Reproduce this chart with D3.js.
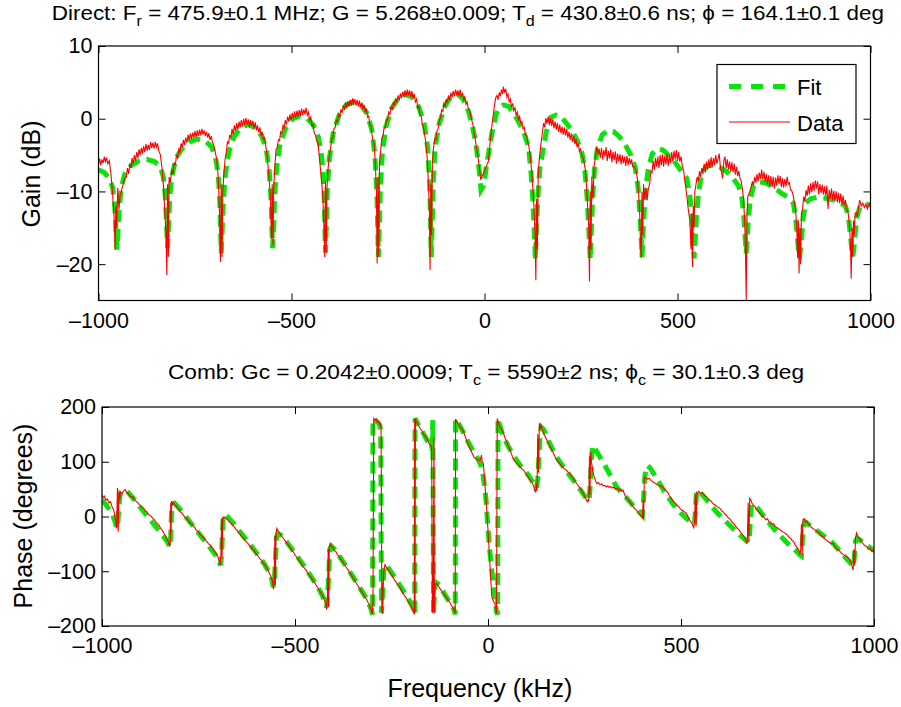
<!DOCTYPE html>
<html>
<head>
<meta charset="utf-8">
<script src="https://cdn.jsdelivr.net/npm/d3@7"></script>
<style>
  body { margin: 0; background: #fff; }
  svg text { font-family: "Liberation Sans", Arial, sans-serif; fill: #000; }
</style>
</head>
<body>
<div id="chart"></div>
<script>
// tick values
const freqTicks = [-1000, -500, 0, 500, 1000];
const gainTicks = [-20, -10, 0, 10];
const phaseTicks = [-200, -100, 0, 100, 200];

// gain fit [kHz, dB]
const gainFit = [
  [-1000,-7.0],[-985,-7.4],[-972,-8.2],[-963,-9.5],[-958,-12],[-955,-15],[-952,-18],[-949,-15],[-946,-12],[-941,-9.5],
  [-932,-7.6],[-915,-6.4],[-895,-5.8],[-875,-5.6],[-855,-5.9],[-840,-6.6],[-832,-8],[-827,-10.5],[-824,-14],[-821,-17.8],
  [-818,-14],[-815,-10.5],[-810,-8],[-800,-5.5],[-785,-4.2],[-765,-3.2],[-745,-2.8],[-725,-3.0],[-708,-3.8],[-698,-5],
  [-690,-7.5],[-686,-11],[-684,-14.5],[-682,-18.5],[-679,-14.5],[-676,-11],[-671,-7.5],[-662,-4.5],[-648,-2.4],[-630,-1.2],
  [-612,-0.8],[-595,-1.2],[-578,-2.3],[-566,-4],[-558,-7],[-553,-11],[-551,-14.5],[-549,-17.8],[-546,-14.5],[-544,-11],
  [-539,-7],[-530,-3.5],[-515,-1.3],[-497,0],[-478,0.4],[-460,0.1],[-443,-0.9],[-430,-2.6],[-421,-5.5],[-416,-9.5],
  [-414,-13.5],[-412,-18.4],[-409,-13.5],[-407,-9.5],[-402,-5.5],[-392,-2],[-376,0.6],[-358,1.9],[-340,2.3],[-322,2.0],
  [-305,0.8],[-292,-1.5],[-284,-5],[-279,-10],[-277,-14],[-275,-19],[-272,-14],[-270,-10],[-265,-5],[-256,-1.2],
  [-240,1.5],[-222,2.9],[-205,3.3],[-188,3.0],[-170,1.6],[-156,-0.8],[-147,-4],[-142,-9],[-140,-13.5],[-138,-19],
  [-135,-13.5],[-133,-9],[-128,-4],[-118,-0.8],[-102,1.8],[-86,3.1],[-70,3.4],[-55,2.7],[-40,0.8],[-30,-1.4],
  [-24,-2.9],[-17,-5.5],[-12,-8],[-9,-9.8],[-2,-9.2],[5,-6.5],[12,-4.3],[20,-1.8],[30,0.6],[38,1.5],
  [50,1.9],[62,1.7],[75,0.8],[90,-0.6],[104,-2.2],[114,-3.9],[120,-7],[125,-11],[128,-14.5],[132,-19.4],
  [135,-14.5],[138,-11],[143,-7],[150,-4.8],[160,-1.8],[172,0.2],[185,0.5],[198,0.3],[212,-0.6],[226,-1.6],
  [240,-3.0],[252,-4.6],[260,-7],[266,-11],[270,-15],[274,-19.4],[277,-15],[280,-11],[285,-7],[292,-4.2],
  [305,-2.2],[320,-1.6],[335,-1.8],[350,-2.5],[365,-3.6],[378,-4.9],[390,-6.6],[398,-9.5],[402,-12.5],[405,-15.5],
  [408,-19],[411,-15.5],[414,-12.5],[418,-9.5],[425,-6.6],[435,-4.8],[448,-4.1],[462,-4.3],[478,-5.1],[495,-6.1],
  [510,-7.2],[524,-8.2],[532,-10.5],[537,-13.5],[540,-16.5],[543,-19.2],[546,-16.5],[549,-13.5],[554,-10.5],[562,-7.6],
  [575,-6.5],[592,-6.4],[610,-6.7],[628,-7.3],[645,-8.3],[658,-9.2],[667,-11],[672,-13.5],[675,-16],[678,-18.5],
  [681,-16],[684,-13.5],[689,-11],[697,-9.2],[710,-8.7],[728,-8.8],[748,-9.4],[768,-10.2],[788,-10.9],[800,-11.6],
  [806,-13.5],[810,-16],[813,-17.8],[816,-19.2],[819,-17.8],[822,-16],[826,-13.5],[832,-11.6],[845,-11],[862,-10.8],
  [880,-10.9],[900,-11.1],[918,-11.4],[935,-12],[943,-13.5],[948,-16],[951,-17.8],[954,-19],[957,-17.8],[960,-16],
  [965,-13.5],[972,-12.2],[985,-11.8],[1000,-11.8]
];

// gain data [kHz, dB]
const gainData = [
  [-1000,-6.3],[-997,-5.5],[-994,-6.4],[-991,-5.6],[-988,-6.1],[-985,-5.2],[-982,-6.0],[-979,-5.3],[-976,-6.2],[-972,-5.8],
  [-968,-7.5],[-964,-10],[-960,-13],[-957,-18.0],[-955,-12],[-953,-15],[-950,-9.5],[-947,-12.5],[-944,-10.5],[-940,-9.8],
  [-936,-9.0],[-932,-8.2],[-928,-8.0],[-925,-6.8],[-922,-7.6],[-919,-6.2],[-916,-6.8],[-913,-5.4],[-910,-6.2],[-907,-5.0],
  [-904,-5.8],[-901,-4.6],[-898,-5.4],[-895,-4.2],[-892,-5.0],[-889,-4.0],[-886,-4.8],[-883,-3.8],[-880,-4.6],[-877,-3.5],
  [-874,-4.4],[-871,-3.6],[-868,-4.3],[-865,-3.2],[-862,-4.0],[-859,-3.3],[-856,-4.1],[-853,-3.2],[-850,-3.9],[-847,-3.4],
  [-844,-4.4],[-840,-4.9],[-836,-6.5],[-832,-9],[-828,-13],[-825,-16],[-823,-21.5],[-821,-9],[-819,-19],[-817,-8],
  [-814,-8.8],[-810,-7.0],[-807,-7.6],[-804,-6.0],[-801,-6.4],[-798,-5.0],[-795,-5.4],[-792,-4.2],[-789,-4.6],[-786,-3.4],
  [-783,-3.9],[-780,-2.9],[-777,-3.6],[-774,-2.6],[-771,-3.3],[-768,-2.2],[-765,-3.0],[-762,-2.0],[-759,-2.8],[-756,-1.9],
  [-753,-2.6],[-750,-1.7],[-747,-2.5],[-744,-1.6],[-741,-2.4],[-738,-1.5],[-735,-2.3],[-732,-1.4],[-729,-2.2],[-726,-1.6],
  [-723,-2.4],[-720,-1.8],[-717,-2.6],[-714,-2.0],[-711,-2.9],[-708,-2.4],[-705,-3.2],[-702,-3.5],[-698,-4.5],[-694,-5.5],
  [-690,-8],[-687,-12],[-684,-19.7],[-682,-9],[-680,-19],[-678,-10],[-675,-7.5],[-672,-5.5],[-669,-4.6],[-666,-3.2],
  [-663,-3.4],[-660,-2.2],[-657,-2.7],[-654,-1.4],[-651,-2.2],[-648,-0.9],[-645,-1.7],[-642,-0.6],[-639,-1.5],[-636,-0.4],
  [-633,-1.2],[-630,-0.2],[-627,-1.1],[-624,0.0],[-621,-0.9],[-618,0.1],[-615,-0.8],[-612,-0.1],[-609,-1.2],[-606,-0.2],
  [-603,-1.0],[-600,-0.3],[-597,-1.4],[-594,-0.5],[-591,-1.6],[-588,-0.9],[-585,-1.9],[-582,-1.2],[-579,-2.3],[-576,-1.8],
  [-573,-2.8],[-570,-2.6],[-567,-3.6],[-563,-5.2],[-559,-7.5],[-555,-10.5],[-552,-16.5],[-550,-9],[-548,-17.4],[-546,-9.5],
  [-543,-6.5],[-540,-4.2],[-537,-4.0],[-534,-2.9],[-531,-3.0],[-528,-1.8],[-525,-2.0],[-522,-0.9],[-519,-1.3],[-516,-0.2],
  [-513,-0.8],[-510,0.3],[-507,-0.4],[-504,0.6],[-501,-0.2],[-498,0.8],[-495,0.0],[-492,1.0],[-489,0.1],[-486,1.1],
  [-483,0.3],[-480,1.2],[-477,0.4],[-474,1.4],[-471,0.5],[-468,1.3],[-465,0.6],[-462,1.5],[-459,0.5],[-456,0.9],
  [-453,-0.2],[-450,0.2],[-447,-1.0],[-444,-0.8],[-441,-2.0],[-438,-2.2],[-435,-3.0],[-431,-3.4],[-427,-5.8],[-423,-8],
  [-419,-10.5],[-416,-15],[-414,-19.0],[-412,-8.5],[-410,-18.5],[-408,-9.5],[-405,-6.8],[-402,-5.0],[-399,-4.2],[-396,-2.8],
  [-393,-2.6],[-390,-1.4],[-387,-1.2],[-384,-0.2],[-381,-0.4],[-378,0.6],[-375,0.3],[-372,1.3],[-369,0.8],[-366,1.8],
  [-363,1.2],[-360,2.2],[-357,1.5],[-354,2.4],[-351,1.7],[-348,2.6],[-345,1.8],[-342,2.8],[-339,1.9],[-336,2.7],
  [-333,1.8],[-330,2.6],[-327,1.7],[-324,2.5],[-321,1.6],[-318,2.2],[-315,1.3],[-312,1.9],[-309,0.9],[-306,1.4],
  [-303,0.2],[-300,0.4],[-297,-0.8],[-294,-1.0],[-290,-2.8],[-286,-3.5],[-283,-6],[-280,-10],[-278,-19.9],[-276,-8],
  [-274,-19.0],[-272,-6],[-269,-4.5],[-266,-2.6],[-263,-2.4],[-260,-1.2],[-257,-1.3],[-254,-0.1],[-251,-0.2],[-248,0.9],
  [-245,0.6],[-242,1.7],[-239,1.2],[-236,2.3],[-233,1.8],[-230,2.8],[-227,2.2],[-224,3.2],[-221,2.5],[-218,3.5],
  [-215,2.8],[-212,3.7],[-209,3.0],[-206,3.9],[-203,3.1],[-200,4.0],[-197,3.2],[-194,3.9],[-191,3.0],[-188,3.8],
  [-185,2.8],[-182,3.4],[-179,2.3],[-176,2.7],[-173,1.5],[-170,1.7],[-167,0.5],[-164,0.4],[-161,-0.9],[-158,-1.2],
  [-155,-2.3],[-152,-3.2],[-149,-5],[-146,-8],[-143,-12],[-141,-20.8],[-139,-9],[-137,-16],[-135,-6],[-132,-4.0],
  [-129,-2.8],[-126,-2.9],[-123,-1.6],[-120,-1.4],[-117,-0.2],[-114,0.1],[-111,1.2],[-108,1.0],[-105,2.1],[-102,1.7],
  [-99,2.7],[-96,2.2],[-93,3.2],[-90,2.6],[-87,3.6],[-84,2.9],[-81,3.8],[-78,3.1],[-75,4.0],[-72,3.2],
  [-69,3.9],[-66,3.1],[-63,4.0],[-60,3.0],[-57,3.6],[-54,2.6],[-51,3.0],[-48,2.0],[-45,2.3],[-42,1.3],
  [-39,1.2],[-36,0.5],[-33,-0.2],[-30,-0.8],[-27,-1.9],[-24,-2.8],[-20,-4.3],[-16,-5.6],[-12,-7.3],[-10,-8.4],
  [10,-5.9],[14,-3.6],[18,-1.5],[22,0.2],[26,1.9],[29,2.9],[32,3.2],[35,2.6],[38,3.6],[41,3.1],
  [44,4.0],[47,3.4],[49,4.4],[52,3.6],[55,4.1],[58,3.0],[61,3.4],[64,2.3],[67,2.7],[70,1.6],
  [73,2.1],[76,1.1],[79,1.5],[82,0.5],[85,0.9],[88,-0.1],[91,0.3],[94,-0.6],[97,-0.4],[100,-1.4],
  [103,-1.2],[106,-2.2],[109,-2.3],[112,-3.3],[115,-3.8],[118,-5],[122,-7],[125,-9.4],[128,-12],[131,-16],
  [133,-22.2],[135,-11],[137,-18],[139,-8],[142,-5.5],[146,-3.6],[150,-1.9],[153,-0.6],[156,-1.2],[159,0.1],
  [162,-0.7],[165,0.3],[168,-0.9],[171,0.1],[174,-1.0],[177,-0.1],[180,-1.3],[183,-0.4],[186,-1.5],[189,-0.6],
  [192,-1.8],[195,-0.8],[198,-2.0],[201,-1.1],[204,-2.2],[207,-1.2],[210,-2.3],[213,-1.4],[216,-2.6],[219,-1.8],
  [222,-2.9],[225,-2.0],[228,-3.2],[231,-2.4],[234,-3.5],[237,-2.8],[240,-3.9],[243,-3.4],[246,-4.5],[249,-4.2],
  [252,-5.1],[255,-5.3],[258,-6.0],[261,-7.0],[264,-9],[267,-12],[270,-15],[272,-22.4],[274,-10],[276,-18],
  [278,-8],[281,-11],[284,-6.5],[288,-5.0],[291,-3.8],[294,-4.9],[297,-4.2],[300,-5.4],[303,-4.0],[306,-5.6],
  [309,-4.3],[312,-5.2],[315,-3.9],[318,-5.8],[321,-4.4],[324,-5.5],[327,-4.2],[330,-6.0],[333,-4.6],[336,-5.7],
  [339,-4.5],[342,-6.2],[345,-4.8],[348,-5.9],[351,-4.9],[354,-6.3],[357,-5.0],[360,-6.1],[363,-5.2],[366,-6.5],
  [369,-5.1],[372,-6.4],[375,-5.4],[378,-6.2],[381,-5.6],[384,-6.6],[388,-6.6],[392,-7.0],[396,-8.2],[399,-10],
  [402,-13],[404,-17],[406,-19.2],[408,-10],[410,-16],[412,-9],[415,-11],[418,-9.5],[421,-11.2],[424,-9.8],
  [428,-8.9],[431,-7.2],[434,-7.4],[437,-5.8],[440,-7.0],[443,-5.4],[446,-6.6],[449,-5.2],[452,-6.8],[455,-5.0],
  [458,-6.4],[461,-4.9],[464,-6.6],[467,-5.1],[470,-6.3],[473,-4.8],[476,-6.5],[479,-5.0],[482,-6.1],[485,-4.6],
  [488,-5.9],[491,-4.4],[494,-5.6],[497,-4.3],[500,-5.8],[503,-4.6],[506,-5.9],[509,-5.2],[512,-6.3],[516,-7.2],
  [520,-8.9],[524,-10.5],[528,-12.5],[532,-14],[535,-18],[537,-13],[539,-20.4],[541,-12],[543,-15],[545,-10],
  [548,-9],[551,-8.0],[554,-8.6],[557,-7.2],[560,-8.0],[563,-6.8],[566,-7.6],[569,-6.2],[572,-7.4],[575,-5.9],
  [578,-7.0],[581,-5.6],[584,-6.8],[587,-5.3],[590,-6.6],[593,-5.4],[596,-6.4],[599,-5.0],[602,-6.2],[605,-5.5],
  [608,-4.8],[611,-6.6],[614,-7.4],[617,-8.2],[620,-5.8],[623,-5.2],[626,-6.8],[629,-5.6],[632,-7.0],[635,-5.9],
  [638,-7.3],[641,-6.0],[644,-7.4],[647,-6.2],[650,-7.7],[653,-6.6],[656,-7.9],[659,-7.2],[662,-8.2],[665,-8.6],
  [668,-9.6],[671,-11],[674,-14],[676,-18],[678,-25],[680,-14],[682,-10.7],[685,-10.3],[688,-9.9],[691,-9.4],
  [694,-8.6],[697,-9.2],[700,-8.0],[703,-8.8],[706,-7.6],[709,-8.6],[712,-7.4],[715,-8.3],[718,-7.0],[721,-8.4],
  [724,-7.3],[727,-8.7],[730,-7.6],[733,-9.0],[736,-7.8],[739,-9.3],[742,-7.9],[745,-9.4],[748,-8.0],[751,-9.6],
  [754,-8.1],[757,-9.2],[760,-7.8],[763,-9.0],[766,-7.9],[769,-9.4],[772,-8.2],[775,-9.5],[778,-8.3],[781,-9.3],
  [784,-8.0],[787,-9.0],[790,-8.8],[793,-9.8],[796,-9.9],[800,-10.6],[803,-11.6],[806,-12.6],[809,-15],[811,-19],
  [813,-14],[815,-21.3],[817,-15],[819,-20],[821,-13],[824,-12.4],[827,-10.7],[830,-11.4],[833,-9.8],[836,-10.6],
  [839,-9.2],[842,-10.4],[845,-8.9],[848,-10.1],[851,-8.7],[854,-9.9],[857,-8.5],[860,-9.6],[863,-8.6],[866,-10.4],
  [869,-9.0],[872,-10.2],[875,-9.1],[878,-10.4],[881,-9.3],[884,-10.6],[887,-9.2],[890,-12.4],[893,-9.8],[896,-11.0],
  [899,-9.6],[902,-11.2],[905,-9.9],[908,-11.3],[911,-10.0],[914,-11.5],[917,-10.2],[920,-11.6],[923,-10.3],[926,-11.8],
  [929,-10.6],[932,-11.9],[935,-11.2],[938,-12.3],[942,-12.9],[945,-14.5],[948,-17],[950,-22],[952,-15],[954,-19],
  [956,-14],[958,-16],[960,-13],[963,-12.9],[966,-13.5],[969,-12.2],[972,-11.2],[976,-12.0],[980,-11.6],[984,-12.2],
  [988,-11.7],[992,-12.4],[996,-11.8],[1000,-11.6]
];

// phase fit [kHz, deg]
const phaseFit = [
  [-1000,30],[-990,22],[-980,12],[-972,2],[-966,-10],[-962,-22],[-959,-12],[-956,20],[-953,40],[-946,47],
  [-936,47],[-920,34],[-900,16],[-880,-2],[-860,-19],[-840,-37],[-830,-47],[-824,-56],[-822,-35],[-820,5],
  [-818,22],[-812,24],[-800,15],[-780,-3],[-760,-21],[-740,-39],[-720,-57],[-705,-71],[-697,-82],[-693,-89],
  [-690,-70],[-688,-30],[-686,0],[-682,4],[-675,0],[-660,-12],[-640,-30],[-620,-48],[-600,-66],[-580,-86],
  [-566,-103],[-560,-115],[-556,-129],[-553,-110],[-550,-70],[-548,-38],[-544,-31],[-535,-35],[-520,-48],[-500,-67],
  [-480,-87],[-460,-108],[-440,-130],[-428,-146],[-421,-158],[-418,-166],[-415,-140],[-412,-95],[-410,-60],[-406,-54],
  [-395,-62],[-380,-78],[-360,-99],[-340,-121],[-320,-144],[-308,-160],[-302,-171],[-299,-179],[-298,179],[-292,176],
  [-284,171],[-280,166],[-278,150],[-277,0],[-276,-176],[-273,-140],[-270,-100],[-266,-88],[-260,-92],[-240,-113],
  [-220,-135],[-205,-152],[-196,-164],[-192,-172],[-190,-179],[-189,179],[-180,167],[-170,155],[-160,142],[-150,129],
  [-146,124],[-144,150],[-143,176],[-142,0],[-141,-178],[-139,-145],[-136,-120],[-130,-123],[-115,-139],[-100,-156],
  [-90,-167],[-86,-175],[-85,-179],[-84,179],[-75,168],[-65,155],[-50,134],[-35,116],[-25,104],[-18,92],
  [-12,72],[-5,30],[-1,-12],[3.5,-55],[9.6,-98],[16,-135],[22,-174],[25,-179],[26,179],[30,168],
  [40,145],[55,125],[70,107],[85,92],[100,80],[108,72],[115,64],[121,56],[126,52],[129,70],
  [132,110],[135,150],[138,163],[145,158],[160,133],[177,109],[200,86],[230,58],[250,38],[258,30],
  [262,29],[265,60],[268,105],[271,128],[274,130],[282,118],[300,97],[333,54],[360,33],[380,17],
  [395,6],[400,2],[403,30],[406,70],[409,88],[413,93],[421,88],[440,66],[455,48],[480,22],
  [500,6],[518,-6],[530,-12],[535,-14],[537,10],[540,40],[543,48],[548,46],[560,36],[592,8],
  [620,-12],[650,-32],[669,-44],[675,-48],[678,-30],[680,5],[683,22],[690,22],[700,14],[721,-6],
  [750,-30],[780,-52],[800,-64],[808,-70],[812,-72],[815,-40],[818,-15],[822,-10],[830,-14],[860,-30],
  [894,-49],[920,-70],[940,-86],[946,-92],[949,-75],[952,-45],[956,-40],[962,-42],[980,-52],[1000,-62]
];

// phase data [kHz, deg]
const phaseData = [
  [-1000,40],[-997,34],[-994,37],[-990,30],[-986,32],[-982,25],[-978,27],[-974,18],[-970,12],[-967,2],
  [-964,-12],[-962,-22],[-960,52],[-958,-28],[-956,48],[-954,30],[-952,45],[-948,42],[-944,47],[-940,49],
  [-936,44],[-932,42],[-928,38],[-924,35],[-920,36],[-916,30],[-912,28],[-908,26],[-904,22],[-900,20],
  [-896,16],[-892,15],[-888,10],[-884,9],[-880,4],[-876,2],[-872,0],[-868,-4],[-864,-6],[-860,-10],
  [-856,-14],[-852,-16],[-848,-22],[-844,-25],[-840,-30],[-836,-35],[-832,-40],[-828,-47],[-825,-55],[-823,-45],
  [-822,25],[-821,-30],[-820,28],[-818,20],[-816,26],[-812,22],[-808,20],[-804,15],[-800,12],[-796,8],
  [-792,6],[-788,1],[-784,-2],[-780,-4],[-776,-8],[-772,-12],[-768,-14],[-764,-17],[-760,-20],[-756,-25],
  [-752,-27],[-748,-30],[-744,-35],[-740,-36],[-736,-40],[-732,-44],[-728,-46],[-724,-50],[-720,-52],[-716,-56],
  [-712,-60],[-708,-64],[-704,-68],[-700,-74],[-697,-80],[-694,-89],[-692,-70],[-690,-5],[-689,-75],[-687,0],
  [-685,-3],[-682,-1],[-678,-4],[-674,-6],[-670,-10],[-666,-12],[-662,-16],[-658,-18],[-654,-23],[-650,-25],
  [-646,-30],[-642,-32],[-638,-37],[-634,-39],[-630,-43],[-626,-46],[-622,-49],[-618,-53],[-614,-55],[-610,-60],
  [-606,-62],[-602,-67],[-598,-70],[-594,-74],[-590,-78],[-586,-80],[-582,-86],[-578,-88],[-574,-93],[-570,-98],
  [-566,-104],[-562,-110],[-558,-118],[-556,-133],[-554,-120],[-552,-35],[-551,-125],[-549,-30],[-547,-22],[-544,-26],
  [-540,-30],[-536,-35],[-532,-38],[-528,-42],[-524,-46],[-520,-49],[-516,-54],[-512,-57],[-508,-62],[-504,-65],
  [-500,-70],[-496,-74],[-492,-77],[-488,-82],[-484,-86],[-480,-90],[-476,-94],[-472,-97],[-468,-102],[-464,-106],
  [-460,-110],[-456,-114],[-452,-118],[-448,-122],[-444,-127],[-440,-131],[-436,-136],[-432,-140],[-428,-146],[-424,-152],
  [-420,-160],[-418,-170],[-416,-150],[-414,-60],[-413,-165],[-411,-55],[-409,-50],[-406,-54],[-402,-56],[-398,-62],
  [-394,-64],[-390,-70],[-386,-72],[-382,-78],[-378,-80],[-374,-86],[-370,-90],[-366,-94],[-362,-98],[-358,-103],
  [-354,-107],[-350,-112],[-346,-116],[-342,-121],[-338,-125],[-334,-130],[-330,-134],[-326,-139],[-322,-143],[-318,-148],
  [-314,-152],[-310,-158],[-306,-163],[-303,-170],[-300,-178],[-298,-160],[-296,179],[-293,176],[-290,178],[-287,172],
  [-284,174],[-281,168],[-279,170],[-277,165],[-275,-175],[-274,-120],[-273,-178],[-272,-140],[-270,-100],[-267,-88],
  [-264,-92],[-260,-95],[-256,-100],[-252,-104],[-248,-108],[-244,-114],[-240,-118],[-236,-122],[-232,-127],[-228,-130],
  [-224,-136],[-220,-140],[-216,-145],[-212,-148],[-208,-154],[-204,-158],[-200,-163],[-196,-168],[-193,-174],[-191,-179],
  [-190,178],[-189,-176],[-188,179],[-185,172],[-181,168],[-177,162],[-173,158],[-169,154],[-165,148],[-161,145],
  [-157,140],[-153,134],[-149,130],[-146,127],[-144,-176],[-142,-170],[-140,143],[-139,-177],[-137,-125],[-134,-122],
  [-130,-125],[-126,-130],[-122,-134],[-118,-138],[-114,-142],[-110,-146],[-106,-150],[-102,-154],[-98,-158],[-94,-163],
  [-90,-168],[-87,-172],[-85,-177],[-84,178],[-80,172],[-76,168],[-72,164],[-68,160],[-64,156],[-60,148],
  [-56,140],[-52,134],[-48,126],[-44,120],[-40,114],[-36,108],[-32,106],[-28,104],[-24,102],[-20,103],
  [-17,112],[-15,100],[-12,97],[-8,60],[-4,20],[0,-25],[4,-75],[8,-125],[10,-147],[14,-155],
  [18,-160],[20,-168],[22,-177],[24,179],[27,172],[30,165],[34,160],[38,155],[42,148],[46,140],
  [50,134],[54,126],[58,120],[62,112],[66,104],[70,100],[74,97],[78,94],[82,92],[86,88],
  [90,86],[94,83],[98,78],[102,74],[106,70],[110,66],[114,62],[118,56],[121,48],[123,44],
  [125,60],[127,46],[129,150],[131,80],[133,170],[135,160],[137,168],[140,160],[144,152],[148,146],
  [152,140],[156,134],[160,128],[164,124],[168,118],[172,112],[176,106],[180,102],[184,98],[188,95],
  [192,92],[196,88],[200,86],[204,84],[208,80],[212,78],[216,74],[220,70],[224,66],[228,62],
  [232,58],[236,54],[240,50],[244,46],[248,40],[252,35],[255,30],[257,27],[259,30],[261,28],
  [263,110],[264,40],[266,118],[268,100],[271,85],[274,75],[278,66],[282,60],[286,62],[290,58],
  [294,60],[298,56],[302,57],[306,54],[310,56],[314,53],[318,55],[322,52],[326,54],[330,50],
  [334,52],[338,48],[342,50],[346,46],[350,48],[354,40],[358,35],[362,32],[366,28],[370,24],
  [374,20],[378,16],[382,14],[386,10],[390,6],[394,3],[398,0],[400,-2],[402,30],[403,-4],
  [405,70],[407,72],[410,70],[414,68],[418,70],[422,66],[426,64],[430,62],[434,60],[438,58],
  [442,57],[446,55],[450,56],[454,52],[458,50],[462,46],[466,44],[470,38],[474,34],[478,30],
  [482,26],[486,24],[490,20],[494,18],[498,14],[502,12],[506,10],[510,8],[514,6],[518,0],
  [522,-6],[526,-10],[530,-15],[533,-20],[535,-12],[537,40],[539,-18],[541,44],[543,42],[546,46],
  [550,42],[554,44],[558,40],[562,38],[566,36],[570,32],[574,30],[578,28],[582,24],[586,22],
  [590,20],[594,18],[598,16],[602,14],[606,10],[610,8],[614,4],[618,2],[622,-2],[626,-4],
  [630,-8],[634,-12],[638,-14],[642,-18],[646,-22],[650,-24],[654,-28],[658,-32],[662,-36],[666,-40],
  [670,-49],[672,-42],[674,25],[676,-45],[678,33],[681,30],[684,24],[688,20],[692,18],[696,12],
  [700,10],[704,6],[708,4],[712,0],[716,-2],[720,-6],[724,-4],[728,-10],[732,-12],[736,-14],
  [740,-13],[744,-18],[748,-20],[752,-22],[756,-24],[760,-26],[764,-28],[768,-30],[772,-32],[776,-34],
  [780,-38],[784,-40],[788,-44],[792,-46],[796,-52],[800,-56],[804,-60],[808,-68],[810,-62],[812,-15],
  [814,-70],[816,-5],[819,-4],[822,-10],[826,-8],[830,-14],[834,-16],[838,-20],[842,-22],[846,-24],
  [850,-26],[854,-28],[858,-30],[862,-34],[866,-36],[870,-38],[874,-42],[878,-44],[882,-46],[886,-48],
  [890,-50],[894,-49],[898,-54],[902,-58],[906,-60],[910,-62],[914,-66],[918,-68],[922,-70],[926,-72],
  [930,-74],[934,-76],[938,-80],[942,-88],[946,-98],[948,-60],[950,-90],[952,-40],[955,-30],[958,-36],
  [962,-40],[966,-44],[970,-48],[974,-52],[978,-54],[982,-56],[986,-60],[990,-58],[994,-64],[998,-62],
  [1000,-66]
];

const width = 901, height = 707;
const fitColor = "#0ce30c", dataColor = "#ff0000";

let svg = d3.select("#chart").append("svg")
    .attr("width", width)
    .attr("height", height);

// one subplot: box, inward ticks on all four sides, lines
function drawPanel(opt) {
    let x = d3.scaleLinear().domain([-1000, 1000]).range([opt.left, opt.right]);
    let y = d3.scaleLinear().domain(opt.yDomain).range([opt.bottom, opt.top]);
    let g = svg.append("g");

    g.append("clipPath").attr("id", opt.id)
        .append("rect")
        .attr("x", opt.left).attr("y", opt.top)
        .attr("width", opt.right - opt.left).attr("height", opt.bottom - opt.top);

    let line = d3.line().x(d => x(d[0])).y(d => y(d[1]));

    g.append("path")
        .datum(opt.fit)
        .attr("clip-path", `url(#${opt.id})`)
        .attr("fill", "none")
        .attr("stroke", fitColor)
        .attr("stroke-width", 5)
        .attr("stroke-dasharray", "12,7")
        .attr("d", line);

    g.append("path")
        .datum(opt.data)
        .attr("clip-path", `url(#${opt.id})`)
        .attr("fill", "none")
        .attr("stroke", dataColor)
        .attr("stroke-width", 1.1)
        .attr("d", line);

    let fmt = d => d < 0 ? "\u2013" + Math.abs(d) : String(d);

    g.append("g")
        .attr("transform", `translate(0,${opt.bottom})`)
        .call(d3.axisBottom(x).tickValues(freqTicks).tickFormat(fmt).tickSizeInner(-7).tickSizeOuter(0).tickPadding(opt.xPad));
    g.append("g")
        .attr("transform", `translate(0,${opt.top})`)
        .call(d3.axisTop(x).tickValues(freqTicks).tickFormat("").tickSizeInner(-7).tickSizeOuter(0));
    g.append("g")
        .attr("transform", `translate(${opt.left},0)`)
        .call(d3.axisLeft(y).tickValues(opt.yTicks).tickFormat(fmt).tickSizeInner(-7).tickSizeOuter(0).tickPadding(6));
    g.append("g")
        .attr("transform", `translate(${opt.right},0)`)
        .call(d3.axisRight(y).tickValues(opt.yTicks).tickFormat("").tickSizeInner(-7).tickSizeOuter(0));

    g.selectAll(".domain").remove();
    g.selectAll(".tick line").attr("stroke", "#000").attr("stroke-width", 1);
    g.selectAll(".tick text").style("font-size", "21.5px").attr("fill", "#000");

    g.append("rect")
        .attr("x", opt.left).attr("y", opt.top)
        .attr("width", opt.right - opt.left).attr("height", opt.bottom - opt.top)
        .attr("fill", "none").attr("stroke", "#000").attr("stroke-width", 1.2);
    return g;
}

drawPanel({id: "clipGain", left: 98.5, right: 870.5, top: 46, bottom: 300.5, xPad: 12,
    yDomain: [-25, 10], yTicks: gainTicks, fit: gainFit, data: gainData});
drawPanel({id: "clipPhase", left: 102, right: 874, top: 407, bottom: 626, xPad: 12,
    yDomain: [-200, 200], yTicks: phaseTicks, fit: phaseFit, data: phaseData});

// titles with subscripts, stretched a little to the reference width
function title(x, y, anchor, sx, parts) {
    let t = svg.append("g")
        .attr("transform", `translate(${x},${y}) scale(${sx},1)`)
        .append("text")
        .attr("text-anchor", anchor)
        .style("font-size", "21px");
    let shift = 0;
    parts.forEach(p => {
        let sub = p[1] ? 6 : 0;
        t.append("tspan")
            .attr("dy", sub - shift)
            .style("font-size", p[1] ? "15px" : "21px")
            .text(p[0]);
        shift = sub;
    });
}
title(884, 20, "end", 1.07, [["Direct: F", 0], ["r", 1], [" = 475.9\u00b10.1 MHz; G = 5.268\u00b10.009; T", 0], ["d", 1],
    [" = 430.8\u00b10.6 ns; \u03d5 = 164.1\u00b10.1 deg", 0]]);
title(486, 379, "middle", 1.08, [["Comb: Gc = 0.2042\u00b10.0009; T", 0], ["c", 1], [" = 5590\u00b12 ns; \u03d5", 0], ["c", 1],
    [" = 30.1\u00b10.3 deg", 0]]);

// axis labels
svg.append("text")
    .attr("transform", "translate(40,174) rotate(-90)")
    .attr("text-anchor", "middle")
    .style("font-size", "25px")
    .text("Gain (dB)");
svg.append("text")
    .attr("transform", "translate(32,516) rotate(-90)")
    .attr("text-anchor", "middle")
    .style("font-size", "25px")
    .text("Phase (degrees)");
svg.append("text")
    .attr("x", 480).attr("y", 697)
    .attr("text-anchor", "middle")
    .style("font-size", "25px")
    .text("Frequency (kHz)");

// legend
let legend = svg.append("g");
legend.append("rect")
    .attr("x", 717).attr("y", 64.5).attr("width", 139).attr("height", 79)
    .attr("fill", "#fff").attr("stroke", "#000").attr("stroke-width", 1.2);
let legendItems = [
    {label: "Fit", color: fitColor, w: 5, dash: "12,10", y: 86.5, x2: 785},
    {label: "Data", color: dataColor, w: 1.2, dash: "none", y: 122, x2: 790}
];
legendItems.forEach(d => {
    legend.append("line")
        .attr("x1", 729).attr("x2", d.x2).attr("y1", d.y).attr("y2", d.y)
        .style("stroke", d.color).style("stroke-width", d.w)
        .style("stroke-dasharray", d.dash);
    legend.append("text")
        .attr("x", 797).attr("y", d.y + 8.5)
        .style("font-size", "22px")
        .text(d.label);
});
</script>
</body>
</html>
